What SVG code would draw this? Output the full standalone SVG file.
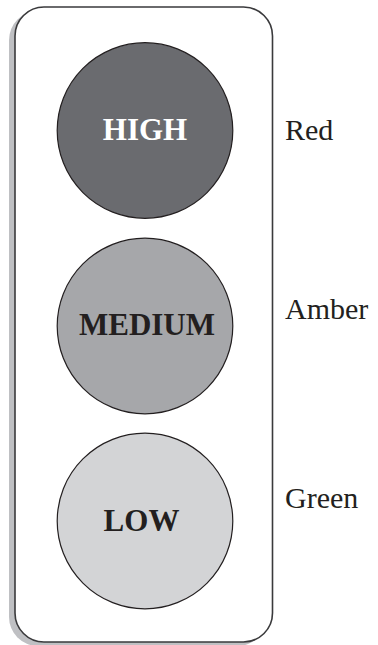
<svg xmlns="http://www.w3.org/2000/svg" width="378" height="645" viewBox="0 0 378 645">
<style>
.lamp{stroke:#231f20;stroke-width:1.2}
.ltxt{font-family:"Liberation Serif","Times New Roman",serif;font-weight:bold;font-size:31px;text-anchor:middle}
.lab{font-family:"Liberation Serif","Times New Roman",serif;font-size:30px;fill:#231f20}
</style>
<rect width="378" height="645" fill="#ffffff"/>
<g id="housing">
<rect x="9" y="11" width="257.5" height="635" rx="29" ry="29" fill="#bfc0c3"/>
<rect x="15" y="7" width="257.5" height="635" rx="29" ry="29" fill="#ffffff" stroke="#3a3a3c" stroke-width="1.6"/>
</g>
<g id="high">
<circle class="lamp" cx="145" cy="130.5" r="87.8" fill="#6a6b6f"/>
<text class="ltxt" x="145" y="139.5" fill="#ffffff">HIGH</text>
</g>
<g id="medium">
<circle class="lamp" cx="145" cy="326" r="87.8" fill="#a6a7aa"/>
<text class="ltxt" x="147" y="335" fill="#231f20">MEDIUM</text>
</g>
<g id="low">
<circle class="lamp" cx="145" cy="521" r="87.8" fill="#d3d4d6"/>
<text class="ltxt" x="141.5" y="531" fill="#231f20">LOW</text>
</g>
<g id="labels">
<text class="lab" x="285" y="140">Red</text>
<text class="lab" x="285" y="318.5">Amber</text>
<text class="lab" x="285" y="507.5">Green</text>
</g>
<g id="connectors"></g>
</svg>
